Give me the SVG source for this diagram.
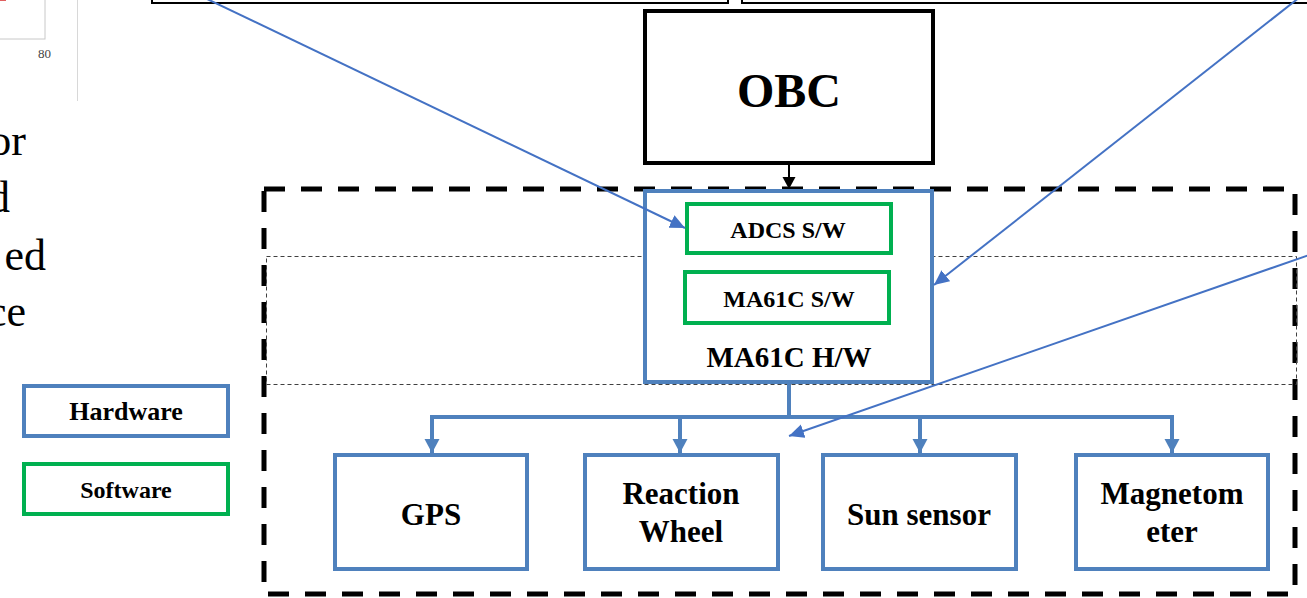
<svg xmlns="http://www.w3.org/2000/svg" width="1307" height="598" viewBox="0 0 1307 598">
<style>
  .t { font-family: "Liberation Serif", "Times New Roman", serif; font-weight: bold; fill: #000; text-anchor: middle; }
  .hw { fill: #fff; stroke: #4F81BD; stroke-width: 4; }
  .sw { fill: #fff; stroke: #00B050; stroke-width: 4; }
  .conn { fill: none; stroke: #4F81BD; stroke-width: 4; }
  .ptr { fill: none; stroke: #4472C4; stroke-width: 2; }
  .thin { fill: none; stroke: #404040; stroke-width: 1; stroke-dasharray: 4 3; }
  .bg { font-family: "Liberation Serif", "Times New Roman", serif; fill: #000; text-anchor: end; font-size: 44px; }
</style>
<defs>
  <marker id="bluehead" markerUnits="userSpaceOnUse" markerWidth="16" markerHeight="16" refX="15" refY="7" orient="auto">
    <path d="M0,0 L15,7 L0,14 Z" fill="#4472C4"/>
  </marker>
  <marker id="branchhead" markerUnits="userSpaceOnUse" markerWidth="16" markerHeight="16" refX="14" refY="8" orient="auto">
    <path d="M0,0.5 L14,8 L0,15.5 Z" fill="#4F81BD"/>
  </marker>
  <marker id="blackhead" markerUnits="userSpaceOnUse" markerWidth="14" markerHeight="14" refX="12" refY="6.5" orient="auto">
    <path d="M0,0 L12,6.5 L0,13 Z" fill="#000"/>
  </marker>
</defs>
<rect width="1307" height="598" fill="#fff"/>

<!-- background slide fragments -->
<g id="background">
  <rect x="-10" y="-10" width="55" height="49" fill="none" stroke="#c8c8c8" stroke-width="1"/>
  <path d="M0,0 L6,0" stroke="#e06060" stroke-width="2"/>
  <text x="38" y="58" font-family="Liberation Serif, serif" font-size="13" fill="#444">80</text>
  <line x1="77.5" y1="0" x2="77.5" y2="101" stroke="#d8d8d8" stroke-width="1"/>
  <text class="bg" x="26" y="155">or</text>
  <text class="bg" x="10" y="212">d</text>
  <text class="bg" x="46" y="270">ed</text>
  <text class="bg" x="26" y="326">ce</text>
  <rect x="152" y="-10" width="576" height="13" fill="none" stroke="#000" stroke-width="2"/>
  <rect x="742" y="-10" width="580" height="13" fill="none" stroke="#000" stroke-width="2"/>
</g>

<!-- containers -->
<g id="containers">
  <rect x="264" y="189" width="1031" height="405" fill="none" stroke="#000" stroke-width="5" stroke-dasharray="21 16"/>
  <rect x="266.5" y="256.5" width="1030" height="128" class="thin"/>
</g>

<!-- legend -->
<g id="legend-hardware">
  <rect x="24" y="386" width="204" height="50" class="hw"/>
  <text class="t" x="126" y="420" font-size="26">Hardware</text>
</g>
<g id="legend-software">
  <rect x="24" y="464" width="204" height="50" class="sw"/>
  <text class="t" x="126" y="498" font-size="24">Software</text>
</g>

<!-- nodes -->
<g id="obc">
  <rect x="645" y="11" width="288" height="152" fill="#fff" stroke="#000" stroke-width="4"/>
  <text class="t" x="789" y="107" font-size="48">OBC</text>
</g>
<g id="ma61c-hw">
  <rect x="645" y="191" width="287" height="191" class="hw"/>
  <text class="t" x="789" y="367" font-size="29">MA61C H/W</text>
</g>
<g id="adcs-sw">
  <rect x="687" y="204" width="204" height="49" class="sw"/>
  <text class="t" x="788" y="238" font-size="24">ADCS S/W</text>
</g>
<g id="ma61c-sw">
  <rect x="685" y="272" width="204" height="51" class="sw"/>
  <text class="t" x="789" y="307" font-size="24">MA61C S/W</text>
</g>
<g id="gps">
  <rect x="335" y="455" width="192" height="114" class="hw"/>
  <text class="t" x="431" y="525" font-size="31">GPS</text>
</g>
<g id="reaction-wheel">
  <rect x="585" y="455" width="193" height="114" class="hw"/>
  <text class="t" x="681" y="504" font-size="31">Reaction</text>
  <text class="t" x="681" y="542" font-size="31">Wheel</text>
</g>
<g id="sun-sensor">
  <rect x="823" y="455" width="193" height="114" class="hw"/>
  <text class="t" x="919" y="525" font-size="31">Sun sensor</text>
</g>
<g id="magnetometer">
  <rect x="1076" y="455" width="192" height="114" class="hw"/>
  <text class="t" x="1172" y="504" font-size="31">Magnetom</text>
  <text class="t" x="1172" y="542" font-size="31">eter</text>
</g>

<!-- connectors -->
<g id="connectors">
  <line x1="789" y1="165" x2="789" y2="189" stroke="#000" stroke-width="2" marker-end="url(#blackhead)"/>
  <path class="conn" d="M789,384 L789,417"/>
  <path class="conn" d="M430,417 L1174,417"/>
  <path class="conn" d="M432,415 L432,453" marker-end="url(#branchhead)"/>
  <path class="conn" d="M680,415 L680,453" marker-end="url(#branchhead)"/>
  <path class="conn" d="M920,415 L920,453" marker-end="url(#branchhead)"/>
  <path class="conn" d="M1172,415 L1172,453" marker-end="url(#branchhead)"/>
  <line class="ptr" x1="205" y1="-2" x2="685" y2="228" marker-end="url(#bluehead)"/>
  <line class="ptr" x1="1300" y1="-3" x2="934" y2="285" marker-end="url(#bluehead)"/>
  <line class="ptr" x1="1312" y1="254" x2="789" y2="436" marker-end="url(#bluehead)"/>
</g>
</svg>
